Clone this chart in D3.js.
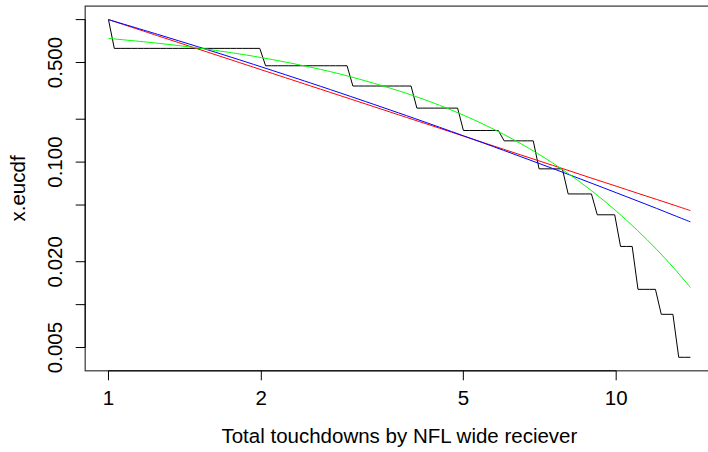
<!DOCTYPE html>
<html><head><meta charset="utf-8">
<script src="https://cdn.jsdelivr.net/npm/d3@7/dist/d3.min.js"></script>
<style>body{margin:0;background:#fff}svg{display:block}</style>
</head><body>
<svg id="chart" width="708" height="452"></svg>
<script>
// ---- data ----
const touchdowns = [1,2,3,4,5,6,7,8,9,10,11,12,13,14];
// share of receivers with at least k touchdowns
const ccdf = [1, 0.6282, 0.4744, 0.3419, 0.2393, 0.1667, 0.1410, 0.0897, 0.0598, 0.0427, 0.0256, 0.0128, 0.00855, 0.00427];
// fitted curves, sampled values
const fitX     = [1, 1.25, 1.5, 1.75, 2, 2.5, 3, 4, 5, 6, 7, 8, 9, 10, 11, 12, 13, 14];
const fitRed   = [1, 0.7704, 0.6225, 0.5199, 0.4447, 0.3426, 0.2769, 0.1978, 0.1524, 0.1231, 0.1028, 0.0880, 0.0766, 0.0678, 0.0606, 0.0548, 0.0499, 0.0457];
const fitBlue  = [1, 0.788, 0.645, 0.5429, 0.466, 0.3592, 0.2888, 0.2030, 0.1531, 0.1210, 0.0988, 0.0827, 0.0705, 0.0610, 0.0535, 0.0474, 0.0423, 0.0381];
const fitGreen = [0.738, 0.683, 0.632, 0.5852, 0.5415, 0.4637, 0.397, 0.2914, 0.2138, 0.1568, 0.1151, 0.0844, 0.0619, 0.0454, 0.0333, 0.0245, 0.0180, 0.0132];
const xTicks = [1, 2, 5, 10];
const xTickLabels = ["1", "2", "5", "10"];
const yTicks = [1, 0.5, 0.2, 0.1, 0.05, 0.02, 0.01, 0.005];
const yTickLabels = ["", "0.500", "", "0.100", "", "0.020", "", "0.005"];
const xTitle = "Total touchdowns by NFL wide reciever";
const yTitle = "x.eucdf";
const gridN = 101;

// ---- layout ----
const svg = d3.select("#chart");
const FONT = "'Liberation Sans', Arial, Helvetica, sans-serif";
const FS = 20.5;
const box = {left: 85.2, top: 6.1, bottom: 370.8};
const xMin = d3.min(touchdowns), xMax = d3.max(touchdowns);
const yMin = d3.min(ccdf), yMaxV = d3.max(ccdf);
const pxPerDecX = 507.7;
const xDataPx = pxPerDecX * Math.log10(xMax / xMin);
const x0 = box.left + xDataPx * 0.04 / 1.0;
const x = d3.scaleLog().domain([xMin, xMax]).range([x0, x0 + xDataPx]);
const boxRight = x0 + xDataPx * 1.04;
const yPad = (box.bottom - box.top) * 0.04 / 1.08;
const y = d3.scaleLog().domain([yMin, yMaxV]).range([box.bottom - yPad, box.top + yPad]);

// staircase evaluated on log grid (as R's curve())
const grid = d3.range(gridN).map(i => Math.exp(Math.log(xMin) + (Math.log(xMax) - Math.log(xMin)) * i / (gridN - 1)));
const stepPts = grid.map(g => {
  const idx = Math.min(d3.bisectLeft(touchdowns, g - 1e-9), touchdowns.length - 1);
  return [x(g), y(ccdf[idx])];
});
svg.append("path").attr("d", d3.line()(stepPts))
  .attr("fill", "none").attr("stroke", "#000").attr("stroke-width", 1);

const fitLine = d3.line().x(d => x(d[0])).y(d => y(d[1])).curve(d3.curveCatmullRom.alpha(0.5));
[[fitRed, "#ff0000"], [fitBlue, "#0000ff"], [fitGreen, "#00ff00"]].forEach(([vals, col]) => {
  svg.append("path").attr("d", fitLine(fitX.map((v, i) => [v, vals[i]])))
    .attr("fill", "none").attr("stroke", col).attr("stroke-width", 1);
});

// box
svg.append("rect").attr("x", box.left).attr("y", box.top)
  .attr("width", boxRight - box.left).attr("height", box.bottom - box.top)
  .attr("fill", "none").attr("stroke", "#444").attr("stroke-width", 1.3);

// x axis
const tick = 9.5;
svg.append("line").attr("x1", x(xTicks[0])).attr("x2", x(xTicks[xTicks.length - 1]))
  .attr("y1", box.bottom).attr("y2", box.bottom).attr("stroke", "#000").attr("stroke-width", 1);
xTicks.forEach((v, i) => {
  svg.append("line").attr("x1", x(v)).attr("x2", x(v)).attr("y1", box.bottom).attr("y2", box.bottom + tick)
    .attr("stroke", "#000").attr("stroke-width", 1);
  svg.append("text").attr("x", x(v)).attr("y", 405).attr("text-anchor", "middle")
    .attr("font-family", FONT).attr("font-size", FS).attr("fill", "#000").text(xTickLabels[i]);
});
// y axis
svg.append("line").attr("y1", y(yTicks[0])).attr("y2", y(yTicks[yTicks.length - 1]))
  .attr("x1", box.left).attr("x2", box.left).attr("stroke", "#000").attr("stroke-width", 1);
yTicks.forEach((v, i) => {
  svg.append("line").attr("y1", y(v)).attr("y2", y(v)).attr("x1", box.left).attr("x2", box.left - tick)
    .attr("stroke", "#000").attr("stroke-width", 1);
  if (yTickLabels[i]) {
    svg.append("text").attr("transform", `translate(62.3,${y(v)}) rotate(-90)`).attr("text-anchor", "middle")
      .attr("font-family", FONT).attr("font-size", FS).attr("fill", "#000").text(yTickLabels[i]);
  }
});
// titles
svg.append("text").attr("x", (box.left + boxRight) / 2).attr("y", 442.7).attr("text-anchor", "middle")
  .attr("font-family", FONT).attr("font-size", FS).attr("fill", "#000").text(xTitle);
svg.append("text").attr("transform", `translate(25,${(box.top + box.bottom) / 2}) rotate(-90)`).attr("text-anchor", "middle")
  .attr("font-family", FONT).attr("font-size", FS).attr("fill", "#000").text(yTitle);
</script>
</body></html>
